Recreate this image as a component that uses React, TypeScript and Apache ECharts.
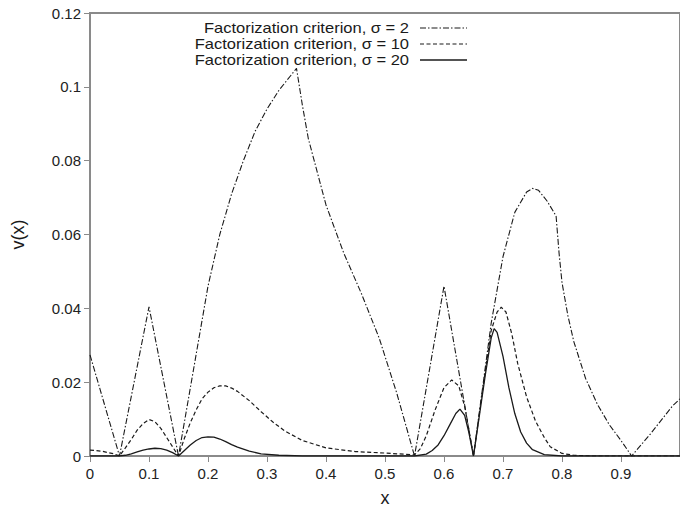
import React, { useEffect, useRef } from "react";
import * as echarts from "echarts";

// sigma = 2 (dash-dot)
const s2X = [0, 0.05, 0.1, 0.15, 0.2, 0.22, 0.24, 0.26, 0.28, 0.3, 0.32, 0.34, 0.35, 0.36, 0.37, 0.38, 0.4, 0.43, 0.46, 0.49, 0.52, 0.55, 0.6, 0.65, 0.66, 0.68, 0.7, 0.72, 0.74, 0.75, 0.76, 0.775, 0.79, 0.795, 0.8, 0.81, 0.82, 0.84, 0.86, 0.88, 0.9, 0.918, 0.95, 0.987, 1.0];
const s2Y = [0.0274, 0, 0.0404, 0, 0.046, 0.06, 0.071, 0.08, 0.088, 0.094, 0.099, 0.103, 0.105, 0.095, 0.086, 0.08, 0.068, 0.055, 0.044, 0.032, 0.017, 0, 0.046, 0, 0.012, 0.036, 0.054, 0.066, 0.0715, 0.0725, 0.072, 0.069, 0.065, 0.055, 0.047, 0.038, 0.031, 0.021, 0.014, 0.0085, 0.0042, 0, 0.006, 0.0135, 0.0155];

// sigma = 10 (dashed)
const s10X = [0, 0.02, 0.04, 0.05, 0.06, 0.07, 0.08, 0.09, 0.1, 0.11, 0.12, 0.13, 0.14, 0.15, 0.16, 0.17, 0.18, 0.19, 0.2, 0.21, 0.22, 0.23, 0.24, 0.25, 0.27, 0.29, 0.31, 0.33, 0.36, 0.4, 0.45, 0.5, 0.55, 0.56, 0.57, 0.585, 0.6, 0.613, 0.625, 0.635, 0.65, 0.66, 0.67, 0.68, 0.69, 0.697, 0.705, 0.715, 0.725, 0.74, 0.755, 0.77, 0.78, 0.8, 0.82, 0.85, 1.0];
const s10Y = [0.0016, 0.0013, 0.0006, 0, 0.0022, 0.0045, 0.007, 0.0088, 0.0099, 0.0093, 0.0075, 0.005, 0.0025, 0, 0.0048, 0.009, 0.0125, 0.0155, 0.0173, 0.0185, 0.019, 0.019, 0.0184, 0.0175, 0.015, 0.012, 0.0092, 0.0068, 0.0042, 0.0022, 0.0012, 0.0008, 0.0003, 0.002, 0.0055, 0.0125, 0.0185, 0.0206, 0.019, 0.0135, 0, 0.0115, 0.023, 0.034, 0.039, 0.0403, 0.039, 0.033, 0.025, 0.016, 0.0095, 0.005, 0.0025, 0.0007, 0.0002, 0, 0];

// sigma = 20 (solid)
const s20X = [0, 0.05, 0.06, 0.07, 0.08, 0.09, 0.1, 0.11, 0.12, 0.13, 0.14, 0.15, 0.16, 0.17, 0.18, 0.19, 0.2, 0.21, 0.22, 0.23, 0.24, 0.25, 0.27, 0.29, 0.32, 0.36, 0.55, 0.57, 0.58, 0.59, 0.6, 0.61, 0.62, 0.627, 0.635, 0.642, 0.65, 0.66, 0.67, 0.68, 0.685, 0.69, 0.7, 0.71, 0.72, 0.73, 0.74, 0.75, 0.77, 0.8, 1.0];
const s20Y = [0, 0, 0.0002, 0.0006, 0.0011, 0.0016, 0.0019, 0.0021, 0.002, 0.0016, 0.0009, 0, 0.0015, 0.003, 0.0042, 0.005, 0.0052, 0.0051, 0.0046, 0.0039, 0.0031, 0.0024, 0.0013, 0.0006, 0.0002, 0, 0, 0.0005, 0.0015, 0.003, 0.0055, 0.0085, 0.0115, 0.0127, 0.011, 0.0065, 0, 0.011, 0.022, 0.032, 0.0345, 0.0335, 0.027, 0.0185, 0.0115, 0.0065, 0.0035, 0.0017, 0.0004, 0, 0];

const seriesNames = [
  "Factorization criterion, σ = 2",
  "Factorization criterion, σ = 10",
  "Factorization criterion, σ = 20",
];

const FONT = "'Liberation Sans', Arial, Helvetica, sans-serif";
const LINE_COLOR = "#1a1a1a";
const AXIS_COLOR = "#8a8a8a";
const DASHDOT = [6, 2, 1.5, 2];
const DASHED = [4, 2.5];

function pairs(xs: number[], ys: number[]) {
  return xs.map((x, i) => [x, ys[i]]);
}

export default function App() {
  const ref = useRef<HTMLDivElement>(null);
  useEffect(() => {
    if (!ref.current) return;
    const chart = echarts.init(ref.current, undefined, { renderer: "svg" });
    const styles = [
      { type: DASHDOT, width: 1.1 },
      { type: DASHED, width: 1.2 },
      { type: "solid", width: 1.3 },
    ];
    const data = [pairs(s2X, s2Y), pairs(s10X, s10Y), pairs(s20X, s20Y)];
    const legendY = [28, 44, 60];
    const graphics: any[] = [];
    seriesNames.forEach((n, i) => {
      graphics.push({
        type: "text",
        x: 409,
        y: legendY[i],
        scaleX: 1.18,
        style: {
          text: n,
          font: `14px ${FONT}`,
          fill: "#1a1a1a",
          textAlign: "right",
          textVerticalAlign: "middle",
        },
      });
      graphics.push({
        type: "line",
        shape: { x1: 420, y1: legendY[i], x2: 467, y2: legendY[i] },
        style: {
          stroke: LINE_COLOR,
          lineWidth: styles[i].width,
          lineDash: Array.isArray(styles[i].type) ? styles[i].type : null,
        },
      });
    });
    chart.setOption({
      animation: false,
      backgroundColor: "#ffffff",
      grid: {
        left: 90,
        top: 13,
        right: -8,
        bottom: 56,
        show: true,
        borderColor: AXIS_COLOR,
        borderWidth: 2,
      },
      xAxis: {
        type: "value",
        min: 0,
        max: 1,
        interval: 0.1,
        name: "x",
        nameLocation: "middle",
        nameGap: 33,
        nameTextStyle: { fontFamily: FONT, fontSize: 18, color: "#1a1a1a" },
        axisLine: { show: true, lineStyle: { color: AXIS_COLOR, width: 2 } },
        axisTick: { show: true, inside: false, length: 6, lineStyle: { color: AXIS_COLOR, width: 1 } },
        splitLine: { show: false },
        axisLabel: {
          fontFamily: FONT,
          fontSize: 15,
          color: "#222",
          margin: 10,
          showMaxLabel: false,
          formatter: (v: number) => (v > 0.99 ? "" : String(Math.round(v * 10) / 10)),
        },
      },
      yAxis: {
        type: "value",
        min: 0,
        max: 0.12,
        interval: 0.02,
        name: "v(x)",
        nameLocation: "middle",
        nameGap: 63,
        nameTextStyle: { fontFamily: FONT, fontSize: 18, color: "#1a1a1a" },
        axisLine: { show: true, lineStyle: { color: AXIS_COLOR, width: 2 } },
        axisTick: { show: true, inside: false, length: 6, lineStyle: { color: AXIS_COLOR, width: 1 } },
        splitLine: { show: false },
        axisLabel: {
          fontFamily: FONT,
          fontSize: 15,
          color: "#222",
          margin: 9,
          formatter: (v: number) => String(Math.round(v * 100) / 100),
        },
      },
      series: data.map((d, i) => ({
        name: seriesNames[i],
        type: "line",
        data: d,
        symbol: "none",
        showSymbol: false,
        smooth: false,
        clip: true,
        lineStyle: { color: LINE_COLOR, width: styles[i].width, type: styles[i].type as any },
      })),
      graphic: graphics,
    });
    return () => chart.dispose();
  }, []);
  return (
    <div
      ref={ref}
      style={{ position: "fixed", left: 0, top: 0, width: 680, height: 512 }}
    />
  );
}
